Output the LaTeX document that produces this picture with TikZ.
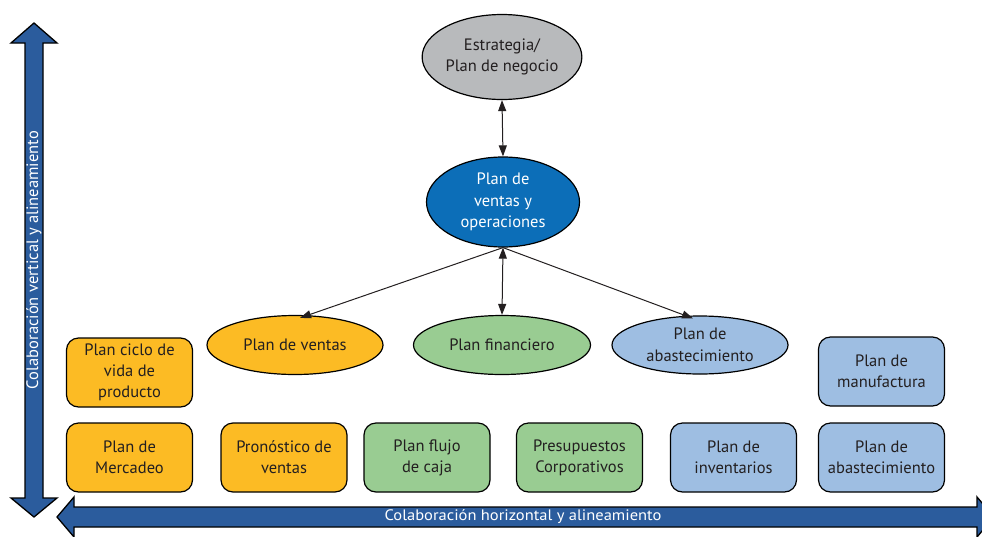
\documentclass[tikz,border=0pt]{standalone}
\usepackage{fontspec}
\setmainfont{PT Sans}
\usetikzlibrary{shapes.geometric,arrows.meta}
\definecolor{cOrange}{RGB}{252,187,36}
\definecolor{cGreen}{RGB}{153,204,146}
\definecolor{cLBlue}{RGB}{158,190,226}
\definecolor{cDBlue}{RGB}{12,110,184}
\definecolor{cGray}{RGB}{184,186,188}
\definecolor{cArrow}{RGB}{43,92,157}
\definecolor{txt}{RGB}{35,31,32}
\begin{document}
\begin{tikzpicture}[x=1pt,y=-1pt,
  box/.style={draw=black, line width=1.2pt, rounded corners=12pt, minimum width=126pt, minimum height=69pt, inner sep=2pt, align=center, font=\fontsize{16.5}{21}\selectfont, text=txt},
  oval/.style={ellipse, draw=black, line width=1.2pt, inner sep=0pt, align=center, font=\fontsize{16.5}{21.5}\selectfont, text=txt},
  conn/.style={draw=txt, line width=1pt, -{Triangle[length=11pt,width=8pt]}},
  bidir/.style={draw=txt, line width=1pt, {Triangle[length=11pt,width=8pt]}-{Triangle[length=11pt,width=8pt]}},
  bigarrow/.style={draw=black, line width=1.3pt, fill=cArrow, line join=miter},
  arrowtext/.style={text=white, font=\fontsize{16.5}{18}\selectfont, inner sep=0pt}
]
\clip (0,0) rectangle (982,536);

% block arrows
\draw[bigarrow] (34,23) -- (57,43) -- (43,43) -- (43,498) -- (57,498) -- (34,517) -- (11,498) -- (25,498) -- (25,43) -- (11,43) -- cycle;
\draw[bigarrow] (57,517) -- (74,497) -- (74,507) -- (977,507) -- (977,497) -- (994,517) -- (977,537) -- (977,527) -- (74,527) -- (74,537) -- cycle;
\node[arrowtext, rotate=90] (vtext) at (34,260) {Colaboración vertical y alineamiento};
\node[arrowtext, yscale=0.92] (htext) at (523,517) {Colaboración horizontal y alineamiento};

% ellipses
\node[oval, fill=cGray, minimum width=154pt, minimum height=85pt] (est) at (502,57) {Estrategia/\\Plan de negocio};
\node[oval, fill=cDBlue, text=white, minimum width=153pt, minimum height=90pt] (sop) at (503,202) {Plan de\\ventas y\\operaciones};
\node[oval, fill=cOrange, minimum width=176pt, minimum height=59pt] (ventas) at (295,345) {Plan de ventas};
\node[oval, fill=cGreen, minimum width=177pt, minimum height=59pt] (fin) at (502,345) {Plan financiero};
\node[oval, fill=cLBlue, minimum width=176pt, minimum height=58pt] (abast) at (700,345) {Plan de\\abastecimiento};

% boxes
\node[box, fill=cOrange] (ciclo) at (129.5,372.5) {Plan ciclo de\\vida de\\producto};
\node[box, fill=cOrange] (merc) at (129.5,457.5) {Plan de\\Mercadeo};
\node[box, fill=cOrange] (pron) at (284,457.5) {Pronóstico de\\ventas};
\node[box, fill=cGreen] (flujo) at (427,457.5) {Plan flujo\\de caja};
\node[box, fill=cGreen] (pres) at (579.5,457.5) {Presupuestos\\Corporativos};
\node[box, fill=cLBlue] (inv) at (733.5,457.5) {Plan de\\inventarios};
\node[box, fill=cLBlue] (abox) at (881.5,457.5) {Plan de\\abastecimiento};
\node[box, fill=cLBlue] (manu) at (881.5,371.5) {Plan de\\manufactura};

% connectors
\draw[bidir] (est.south) -- (sop.north);
\draw[conn] (sop.south) -- ([xshift=5pt,yshift=-3pt]ventas.north);
\draw[bidir] (sop.south) -- (fin.north);
\draw[conn] (sop.south) -- ([xshift=-7pt,yshift=-3pt]abast.north);
\end{tikzpicture}
\end{document}
